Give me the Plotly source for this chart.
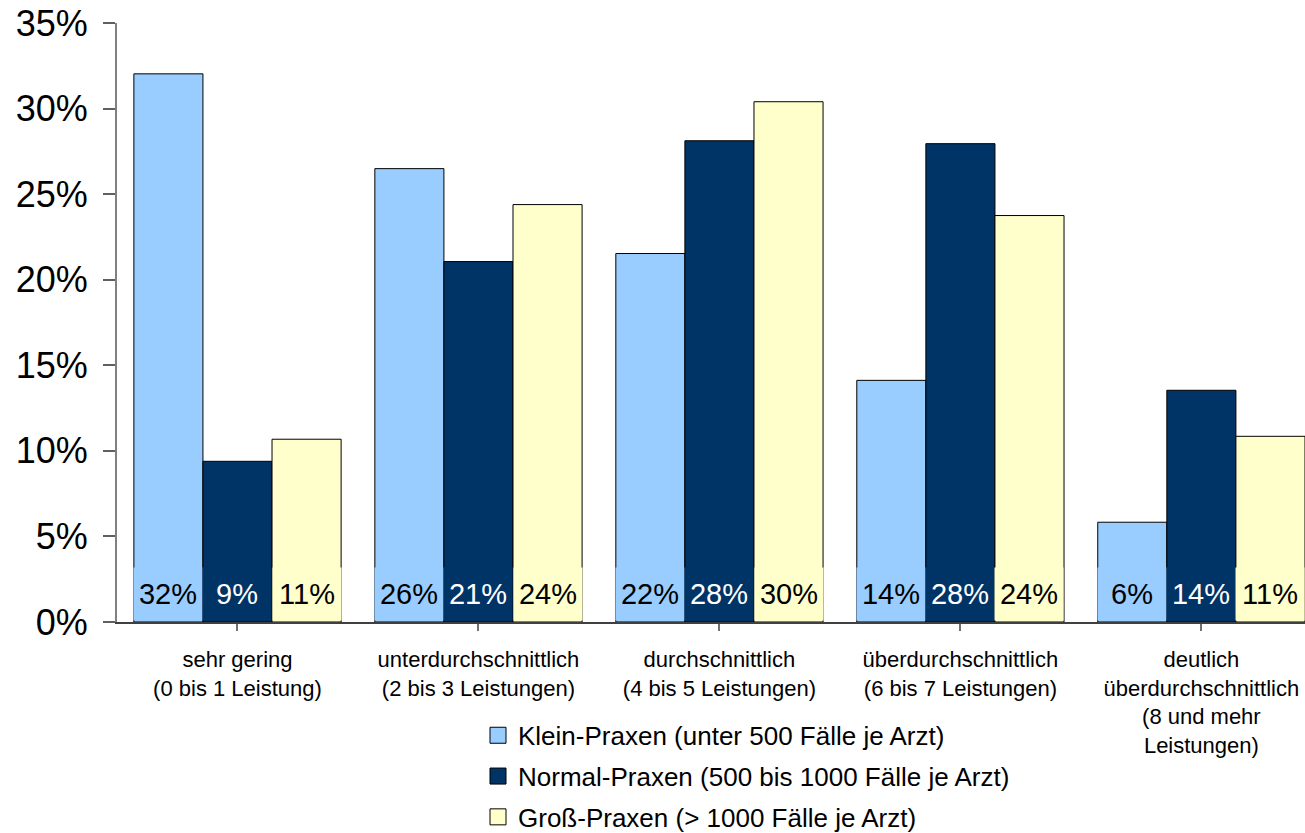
import plotly.graph_objects as go

categories = [
    "sehr gering<br>(0 bis 1 Leistung)",
    "unterdurchschnittlich<br>(2 bis 3 Leistungen)",
    "durchschnittlich<br>(4 bis 5 Leistungen)",
    "überdurchschnittlich<br>(6 bis 7 Leistungen)",
    "deutlich<br>überdurchschnittlich<br>(8 und mehr<br>Leistungen)",
]
series_names = [
    "Klein-Praxen (unter 500 Fälle je Arzt)",
    "Normal-Praxen (500 bis 1000 Fälle je Arzt)",
    "Groß-Praxen (> 1000 Fälle je Arzt)",
]
klein = [0.3203, 0.2649, 0.2153, 0.1412, 0.0583]
normal = [0.0939, 0.2106, 0.2812, 0.2795, 0.1354]
gross = [0.1068, 0.2439, 0.3040, 0.2375, 0.1085]
values = [klein, normal, gross]
colors = ["#99CCFF", "#003366", "#FFFFCC"]
label_colors = ["#000000", "#FFFFFF", "#000000"]

BARGAP = 0.14
FONT = "Liberation Sans, Arial"

fig = go.Figure()
for k, (name, vals, col) in enumerate(zip(series_names, values, colors)):
    fig.add_trace(go.Bar(
        x=list(range(len(categories))), y=vals, name=name,
        marker=dict(color=col, line=dict(color="#000000", width=1)),
        showlegend=False,
    ))
# legend entries (larger square swatches)
for k, (name, col) in enumerate(zip(series_names, colors)):
    fig.add_trace(go.Scatter(
        x=[None], y=[None], name=name, mode="markers",
        marker=dict(symbol="square", size=16, color=col,
                    line=dict(color="#000000", width=1)),
        legendgroup=f"g{k}", showlegend=True,
    ))

w = (1 - BARGAP) / 3
annotations = []
for k, vals in enumerate(values):
    for i, v in enumerate(vals):
        annotations.append(dict(
            x=i + (k - 1) * w, y=0, xref="x", yref="y",
            text=f"{round(v * 100):.0f}%", showarrow=False,
            yanchor="bottom", xanchor="center", yshift=1,
            font=dict(family=FONT, size=29, color=label_colors[k]),
            bgcolor=colors[k], width=68, height=52, borderpad=0, valign="middle",
        ))

fig.update_layout(
    width=1305, height=833,
    margin=dict(l=117, r=0, t=23, b=211, autoexpand=False),
    paper_bgcolor="white", plot_bgcolor="white",
    font=dict(family=FONT, color="#000000"),
    barmode="group", bargap=BARGAP, bargroupgap=0,
    showlegend=True,
    legend=dict(
        x=(478 - 117) / 1188, xanchor="left",
        y=-0.15, yanchor="top",
        font=dict(size=26, family=FONT),
        tracegroupgap=4, traceorder="grouped",
        itemsizing="trace",
        bgcolor="rgba(0,0,0,0)",
    ),
    annotations=annotations,
)
fig.update_xaxes(
    tickmode="array", tickvals=list(range(len(categories))), ticktext=categories,
    range=[-0.5, 4.43],
    showline=True, linecolor="#404040", linewidth=1.5,
    ticks="outside", ticklen=7, tickcolor="#707070", tickwidth=1.5,
    ticklabelstandoff=10,
    showgrid=False, zeroline=False,
    tickfont=dict(size=22, family=FONT),
)
fig.update_yaxes(
    range=[0, 0.35], dtick=0.05, tick0=0, tickformat=".0%",
    showline=True, linecolor="#808080", linewidth=2,
    ticks="outside", ticklen=12, tickcolor="#606060", tickwidth=1.5,
    ticklabelstandoff=8,
    showgrid=False, zeroline=False,
    tickfont=dict(size=36, family=FONT),
)

fig.write_html("out.html")
